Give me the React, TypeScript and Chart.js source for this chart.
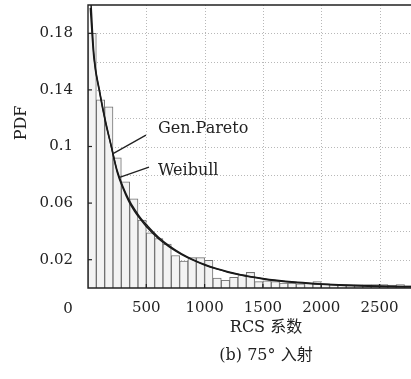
import React, { useEffect, useRef } from 'react';
import { Chart, registerables } from 'chart.js';

Chart.register(...registerables);

// ---- data ----
const BIN_WIDTH = 500 / 7;
const BIN_HEIGHTS = [
  0.18, 0.133, 0.128, 0.092, 0.075, 0.063, 0.048, 0.039, 0.035, 0.031,
  0.023, 0.019, 0.0215, 0.0215, 0.0195, 0.007, 0.0055, 0.0075, 0.0095, 0.011,
  0.0045, 0.005, 0.0045, 0.0035, 0.0035, 0.003, 0.0035, 0.0045, 0.003, 0.0025,
  0.0025, 0.0025, 0.0025, 0.0025, 0.0025, 0.0025, 0.002, 0.0025, 0.0015,
];
const CURVE_X = [
  20, 50, 100, 150, 200, 250, 300, 350, 400, 450, 500, 600, 700, 800, 900,
  1000, 1100, 1200, 1300, 1400, 1500, 1600, 1800, 2000, 2200, 2400, 2600, 2770,
];
const GEN_PARETO = [
  0.198, 0.163, 0.138, 0.117, 0.1, 0.083, 0.0715, 0.0625, 0.0555, 0.0495, 0.0448, 0.0362, 0.0296, 0.0243, 0.0201,
  0.0166, 0.0138, 0.0115, 0.0096, 0.008, 0.0067, 0.0056, 0.004, 0.0029, 0.0021, 0.0016, 0.0012, 0.001,
];
const WEIBULL = [
  0.21, 0.166, 0.139, 0.118, 0.1, 0.082, 0.0705, 0.0612, 0.0542, 0.0485, 0.0435, 0.0352, 0.0289, 0.0238, 0.0197,
  0.0163, 0.0135, 0.0112, 0.0093, 0.0077, 0.0064, 0.0053, 0.0037, 0.0026, 0.0018, 0.0013, 0.0009, 0.0007,
];
const X_TICKS = [0, 500, 1000, 1500, 2000, 2500];
const Y_TICKS = [0.02, 0.06, 0.1, 0.14, 0.18];
const Y_GRID = [0.02, 0.04, 0.06, 0.08, 0.1, 0.12, 0.14, 0.16, 0.18];
const X_MAX = 2770;
const Y_MAX = 0.2;
const X_TITLE = 'RCS 系数';
const Y_TITLE = 'PDF';
const CAPTION = '(b) 75° 入射';
const ANNOTATIONS = [
  { text: 'Gen.Pareto', tx: 600, ty: 0.1124, from: [497, 0.108], to: [215, 0.095] },
  { text: 'Weibull', tx: 600, ty: 0.0827, from: [523, 0.0855], to: [265, 0.078] },
];

const FONT = '"DejaVu Serif", "Noto Sans CJK SC", serif';
const INK = '#222';

const decor = {
  id: 'decor',
  beforeDatasetsDraw(chart: any) {
    const { ctx, chartArea: a, scales } = chart;
    const x = scales.x, y = scales.y;
    ctx.save();
    ctx.strokeStyle = '#b8b8b8';
    ctx.lineWidth = 1;
    ctx.setLineDash([1, 2]);
    for (const v of X_TICKS) {
      if (v === 0) continue;
      const px = Math.round(x.getPixelForValue(v)) + 0.5;
      ctx.beginPath(); ctx.moveTo(px, a.top); ctx.lineTo(px, a.bottom); ctx.stroke();
    }
    for (const v of Y_GRID) {
      const py = Math.round(y.getPixelForValue(v)) + 0.5;
      ctx.beginPath(); ctx.moveTo(a.left, py); ctx.lineTo(a.right, py); ctx.stroke();
    }
    ctx.restore();
  },
  afterDatasetsDraw(chart: any) {
    const { ctx, chartArea: a, scales } = chart;
    const x = scales.x, y = scales.y;
    ctx.save();
    // frame
    ctx.strokeStyle = INK;
    ctx.lineWidth = 1.4;
    ctx.beginPath();
    ctx.moveTo(a.right, a.top); ctx.lineTo(a.left, a.top); ctx.lineTo(a.left, a.bottom); ctx.lineTo(a.right, a.bottom);
    ctx.stroke();
    // tick marks
    ctx.lineWidth = 1.2;
    for (const v of X_TICKS) {
      if (v === 0) continue;
      const px = x.getPixelForValue(v);
      ctx.beginPath(); ctx.moveTo(px, a.bottom); ctx.lineTo(px, a.bottom - 4); ctx.stroke();
    }
    for (const v of Y_TICKS) {
      const py = y.getPixelForValue(v);
      ctx.beginPath(); ctx.moveTo(a.left, py); ctx.lineTo(a.left + 4, py); ctx.stroke();
    }
    // annotations
    ctx.lineWidth = 1.3;
    ctx.fillStyle = INK;
    ctx.font = `16px ${FONT}`;
    ctx.textAlign = 'left';
    ctx.textBaseline = 'middle';
    for (const an of ANNOTATIONS) {
      ctx.beginPath();
      ctx.moveTo(x.getPixelForValue(an.from[0]), y.getPixelForValue(an.from[1]));
      ctx.lineTo(x.getPixelForValue(an.to[0]), y.getPixelForValue(an.to[1]));
      ctx.stroke();
      ctx.fillText(an.text, x.getPixelForValue(an.tx), y.getPixelForValue(an.ty));
    }
    // "0" origin label, offset left
    ctx.font = `15px ${FONT}`;
    ctx.textAlign = 'center';
    ctx.fillText('0', x.getPixelForValue(0) - 20, a.bottom + 21);
    // titles
    ctx.font = `16px ${FONT}`;
    ctx.fillText(X_TITLE, 266, 328);
    ctx.fillText(CAPTION, 266, 356);
    ctx.save();
    ctx.translate(22, 123);
    ctx.rotate(-Math.PI / 2);
    ctx.fillText(Y_TITLE, 0, 0);
    ctx.restore();
    ctx.restore();
  },
};

export default function App() {
  const ref = useRef<HTMLCanvasElement>(null);
  useEffect(() => {
    document.body.style.margin = '0';
    const canvas = ref.current;
    if (!canvas) return;
    const bars = BIN_HEIGHTS.map((h, i) => ({ x: (i + 0.5) * BIN_WIDTH, y: h }));
    const gp = CURVE_X.map((v, i) => ({ x: v, y: GEN_PARETO[i] }));
    const wb = CURVE_X.map((v, i) => ({ x: v, y: WEIBULL[i] }));
    const chart = new Chart(canvas, {
      type: 'bar',
      data: {
        datasets: [
          {
            type: 'bar',
            label: 'hist',
            data: bars as any,
            backgroundColor: '#f3f3f3',
            borderColor: '#707070',
            borderWidth: { top: 1, left: 1, right: 1, bottom: 0 } as any,
            borderSkipped: false as any,
            barPercentage: 1,
            categoryPercentage: 1,
            order: 2,
          },
          {
            type: 'line',
            label: 'Gen.Pareto',
            data: gp as any,
            borderColor: '#1a1a1a',
            borderWidth: 1.5,
            pointRadius: 0,
            cubicInterpolationMode: 'monotone',
            order: 1,
          },
          {
            type: 'line',
            label: 'Weibull',
            data: wb as any,
            borderColor: '#1a1a1a',
            borderWidth: 1.5,
            pointRadius: 0,
            cubicInterpolationMode: 'monotone',
            order: 0,
          },
        ],
      },
      options: {
        animation: false,
        responsive: false,
        devicePixelRatio: 1,
        layout: { padding: { top: 5, left: 0, right: 0, bottom: 0 } },
        plugins: { legend: { display: false }, tooltip: { enabled: false } },
        scales: {
          x: {
            type: 'linear',
            min: 0,
            max: X_MAX,
            offset: false,
            grid: { display: false, drawTicks: false },
            border: { display: false },
            afterBuildTicks: (s: any) => { s.ticks = X_TICKS.map((v) => ({ value: v })); },
            ticks: {
              autoSkip: false,
              maxRotation: 0,
              padding: 11,
              color: INK,
              font: { family: FONT, size: 15 },
              callback: (v: any) => (Number(v) === 0 ? '' : String(v)),
            },
            afterFit: (s: any) => { s.height = 91; s.paddingLeft = 0; s.paddingRight = 0; },
          },
          y: {
            type: 'linear',
            min: 0,
            max: Y_MAX,
            grid: { display: false, drawTicks: false },
            border: { display: false },
            afterBuildTicks: (s: any) => { s.ticks = Y_TICKS.map((v) => ({ value: v })); },
            ticks: {
              autoSkip: false,
              padding: 15,
              color: INK,
              font: { family: FONT, size: 15 },
              callback: (v: any) => String(v),
            },
            afterFit: (s: any) => { s.width = 88; s.paddingTop = 0; s.paddingBottom = 0; },
          },
        },
      },
      plugins: [decor],
    });
    return () => chart.destroy();
  }, []);
  return (
    <div style={{ width: 411, height: 379 }}>
      <canvas ref={ref} width={411} height={379} style={{ display: 'block' }} />
    </div>
  );
}
